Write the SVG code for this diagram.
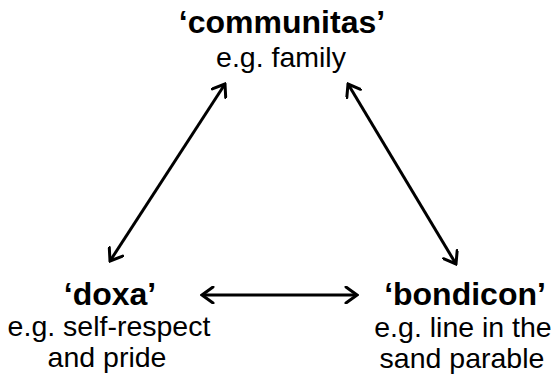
<svg xmlns="http://www.w3.org/2000/svg" width="555" height="383" viewBox="0 0 555 383">
<defs>
<style>
text{font-family:"Liberation Sans",Arial,sans-serif;font-size:28.5px;fill:#000;text-anchor:middle}
.t{font-weight:bold;font-size:32px}
.c{stroke:#000;stroke-width:3;fill:none}
</style>
<marker id="ah" viewBox="-13 -9 15 18" markerWidth="15" markerHeight="18" refX="0" refY="0" orient="auto-start-reverse" markerUnits="userSpaceOnUse">
<path d="M-11,-8 L0,0 L-11,8" fill="none" stroke="#000" stroke-width="3" stroke-linecap="round" stroke-linejoin="miter"/>
</marker>
</defs>
<rect width="555" height="383" fill="#fff"/>
<g id="communitas">
<text class="t" x="282" y="33">‘communitas’</text>
<text x="281" y="67">e.g. family</text>
</g>
<g id="doxa">
<text class="t" x="110" y="305">‘doxa’</text>
<text x="109" y="336">e.g. self-respect</text>
<text x="107" y="367">and pride</text>
</g>
<g id="bondicon">
<text class="t" x="465" y="305">‘bondicon’</text>
<text x="463" y="337">e.g. line in the</text>
<text x="462" y="368">sand parable</text>
</g>
<g id="connectors">
<line class="c" x1="110" y1="261" x2="225" y2="84" marker-start="url(#ah)" marker-end="url(#ah)"/>
<line class="c" x1="348" y1="84" x2="456" y2="264" marker-start="url(#ah)" marker-end="url(#ah)"/>
<line class="c" x1="202" y1="295" x2="357" y2="295" marker-start="url(#ah)" marker-end="url(#ah)"/>
</g>
</svg>
